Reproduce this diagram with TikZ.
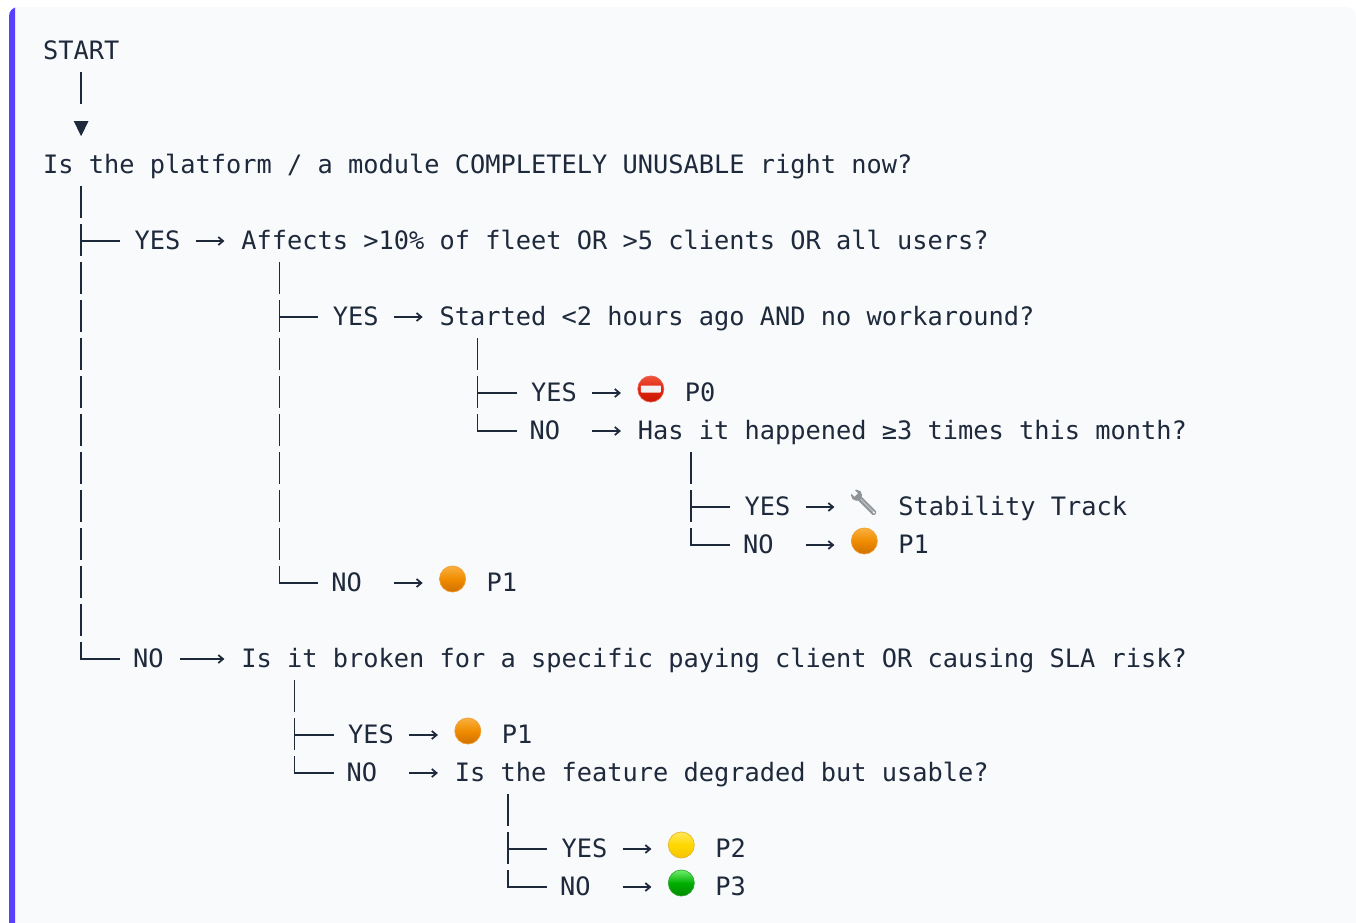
\documentclass[tikz,border=0pt]{standalone}
\usepackage{fontspec}
\setmainfont{DejaVu Sans Mono}
\usetikzlibrary{arrows.meta,calc,shapes.geometric}
\definecolor{ink}{HTML}{1E293B}
\definecolor{panelbg}{HTML}{F8FAFC}
\definecolor{accent}{HTML}{5B3FFF}
\definecolor{orangeedge}{HTML}{F0A030}\definecolor{orangetop}{HTML}{FAB040}\definecolor{orangemid}{HTML}{F08C00}\definecolor{orangelow}{HTML}{D07000}
\definecolor{yellowedge}{HTML}{E8B52A}\definecolor{yellowtop}{HTML}{FFE75C}\definecolor{yellowlow}{HTML}{F5C400}\definecolor{yellowmid}{HTML}{FFD800}
\definecolor{greenedge}{HTML}{2FA82F}\definecolor{greentop}{HTML}{6FEF6F}\definecolor{greenlow}{HTML}{008C00}\definecolor{greenmid}{HTML}{00AE00}
\definecolor{rededge}{HTML}{E8604A}\definecolor{redtop}{HTML}{F0543C}\definecolor{redlow}{HTML}{C81800}\definecolor{redmid}{HTML}{E02410}
\definecolor{barwhite}{HTML}{F1F1F1}\definecolor{metaldark}{HTML}{8E9398}\definecolor{metallight}{HTML}{B4B9BE}
\tikzset{
  lbl/.style={anchor=west,inner sep=0pt,outer sep=0pt,text height=15pt,text depth=3pt,text=ink,font=\fontsize{19pt}{22pt}\selectfont},
  stem/.style={draw=ink,line width=1.3pt,dash pattern=on 24pt off 4.5pt,shorten <=6.75pt},
  twig/.style={draw=ink,line width=1.3pt,line cap=rect,shorten >=11.44pt},
  flowtip/.style={-{Straight Barb[length=3.6pt,width=6pt,line width=1.3pt]},draw=ink,line width=1.2pt,shorten >=12.6pt},
  flowyes/.style={flowtip,shorten <=11.44pt},
  flowno/.style={flowtip,shorten <=22.88pt},
  ball/.style={circle,anchor=west,inner sep=0pt,outer sep=0pt,minimum size=19.6pt,line width=.5pt},
  orangeball/.style={ball,draw=orangeedge,top color=orangetop,bottom color=orangelow,middle color=orangemid},
  yellowball/.style={ball,draw=yellowedge,top color=yellowtop,bottom color=yellowlow,middle color=yellowmid},
  greenball/.style={ball,draw=greenedge,top color=greentop,bottom color=greenlow,middle color=greenmid},
  redball/.style={ball,draw=rededge,top color=redtop,bottom color=redlow,middle color=redmid},
  stopbar/.style={fill=barwhite,rounded corners=.6pt},
  wrenchmetal/.style={fill=metaldark},
  wrenchlight/.style={fill=metallight},
}
\newcommand\lb[4]{\node[lbl] (#1) at ({43+15.25*#2},{51+38*#3}) {#4};}
\newcommand\bl[4]{\node[#4] (#1) at ({43+15.25*#2},{47+38*#3}) {};}
\newcommand\jn[3]{\coordinate (#1) at ({43+15.25*(#2+.5)},{51+38*#3});}
\newcommand\nolbl{\kern-1.1pt NO\kern1.1pt}
\newcommand\aftr[1]{\kern1.1pt #1\kern-1.1pt}
\begin{document}
\begin{tikzpicture}[x=.75pt,y=-.75pt]
\useasboundingbox (0,0) rectangle (1356,922);
\clip (0,0) rectangle (1356,922);
% panel
\begin{scope}
\clip (0,0) rectangle (15.3,960);
\fill[accent,rounded corners=6.75pt] (9,7) rectangle (1356,960);
\end{scope}
\fill[panelbg] (15.3,960) -- (15.3,7) -- (1346,7) to[out=0,in=90] (1356,17) -- (1356,960) -- cycle;
% text
\lb{start}{0}{0}{START}
\lb{q1}{0}{3}{Is the platform / a module COMPLETELY UNUSABLE right now?}
\lb{ya}{6}{5}{YES}
\lb{qa}{13}{5}{Affects >10\% of fleet OR >5 clients OR all users?}
\lb{yb}{19}{7}{YES}
\lb{qb}{26}{7}{Started <2 hours ago AND no workaround?}
\lb{yc}{32}{9}{YES}
\bl{e0}{39}{9}{redball}
\lb{p0}{42}{9}{\aftr{P0}}
\lb{nc}{32}{10}{\nolbl}
\lb{qc}{39}{10}{Has it happened ≥3 times this month?}
\lb{yd}{46}{12}{YES}
\node[ball] (ew) at ({43+15.25*53},{47+38*12}) {};
\lb{st}{56}{12}{\aftr{Stability Track}}
\lb{nd}{46}{13}{\nolbl}
\bl{e1}{53}{13}{orangeball}
\lb{p1a}{56}{13}{\aftr{P1}}
\lb{nb}{19}{14}{\nolbl}
\bl{e2}{26}{14}{orangeball}
\lb{p1b}{29}{14}{\aftr{P1}}
\lb{na}{6}{16}{\nolbl}
\lb{qn}{13}{16}{Is it broken for a specific paying client OR causing SLA risk?}
\lb{ye}{20}{18}{YES}
\bl{e3}{27}{18}{orangeball}
\lb{p1c}{30}{18}{\aftr{P1}}
\lb{ne}{20}{19}{\nolbl}
\lb{qe}{27}{19}{Is the feature degraded but usable?}
\lb{yf}{34}{21}{YES}
\bl{e4}{41}{21}{yellowball}
\lb{p2}{44}{21}{\aftr{P2}}
\lb{nf}{34}{22}{\nolbl}
\bl{e5}{41}{22}{greenball}
\lb{p3}{44}{22}{\aftr{P3}}
% emoji details
\fill[stopbar] ($(e0.center)+(-10,-3.5)$) rectangle ($(e0.center)+(10,3.5)$);
\begin{scope}[shift={(ew.center)},rotate=-45]
  \fill[wrenchmetal,rounded corners=1pt] (-8,-2.6) rectangle (15.5,2.6);
  \fill[wrenchlight] (-8,-1) rectangle (15,.6);
  \fill[wrenchmetal] (-11,0) circle (5.6);
  \fill[panelbg] (-18,-2.4) rectangle (-11.4,2.4);
  \fill[panelbg] (13.3,0) circle (1.1);
\end{scope}
% junctions
\jn{s0}{2}{2}
\jn{ay}{2}{5}\jn{an}{2}{16}
\jn{by}{15}{7}\jn{bn}{15}{14}
\jn{cy}{28}{9}\jn{cn}{28}{10}
\jn{dy}{42}{12}\jn{dn}{42}{13}
\jn{ey}{16}{18}\jn{en}{16}{19}
\jn{fy}{30}{21}\jn{fn}{30}{22}
% connectors
\draw[stem,dash pattern=on 24pt off 80pt,shorten >=12.6pt,-{Triangle[length=11.4pt,width=10.8pt,fill=ink]}] (start.south -| s0) -- (q1.north -| s0);
\draw[stem] (q1.south -| ay) -- (an);
\draw[stem] (qa.south -| by) -- (bn);
\draw[stem] (qb.south -| cy) -- (cn);
\draw[stem] (qc.south -| dy) -- (dn);
\draw[stem] (qn.south -| ey) -- (en);
\draw[stem] (qe.south -| fy) -- (fn);
\draw[twig] (ay) -- (ya.west);
\draw[twig] (an) -- (na.west);
\draw[twig] (by) -- (yb.west);
\draw[twig] (bn) -- (nb.west);
\draw[twig] (cy) -- (yc.west);
\draw[twig] (cn) -- (nc.west);
\draw[twig] (dy) -- (yd.west);
\draw[twig] (dn) -- (nd.west);
\draw[twig] (ey) -- (ye.west);
\draw[twig] (en) -- (ne.west);
\draw[twig] (fy) -- (yf.west);
\draw[twig] (fn) -- (nf.west);
\draw[flowyes] (ya.east) -- (qa.west);
\draw[flowyes] (yb.east) -- (qb.west);
\draw[flowyes] (yc.east) -- (yc.east -| e0.west);
\draw[flowno] (nc.east) -- (qc.west);
\draw[flowyes] (yd.east) -- (yd.east -| ew.west);
\draw[flowno] (nd.east) -- (nd.east -| e1.west);
\draw[flowno] (nb.east) -- (nb.east -| e2.west);
\draw[flowyes] (na.east) -- (qn.west);
\draw[flowyes] (ye.east) -- (ye.east -| e3.west);
\draw[flowno] (ne.east) -- (qe.west);
\draw[flowyes] (yf.east) -- (yf.east -| e4.west);
\draw[flowno] (nf.east) -- (nf.east -| e5.west);
\end{tikzpicture}
\end{document}
